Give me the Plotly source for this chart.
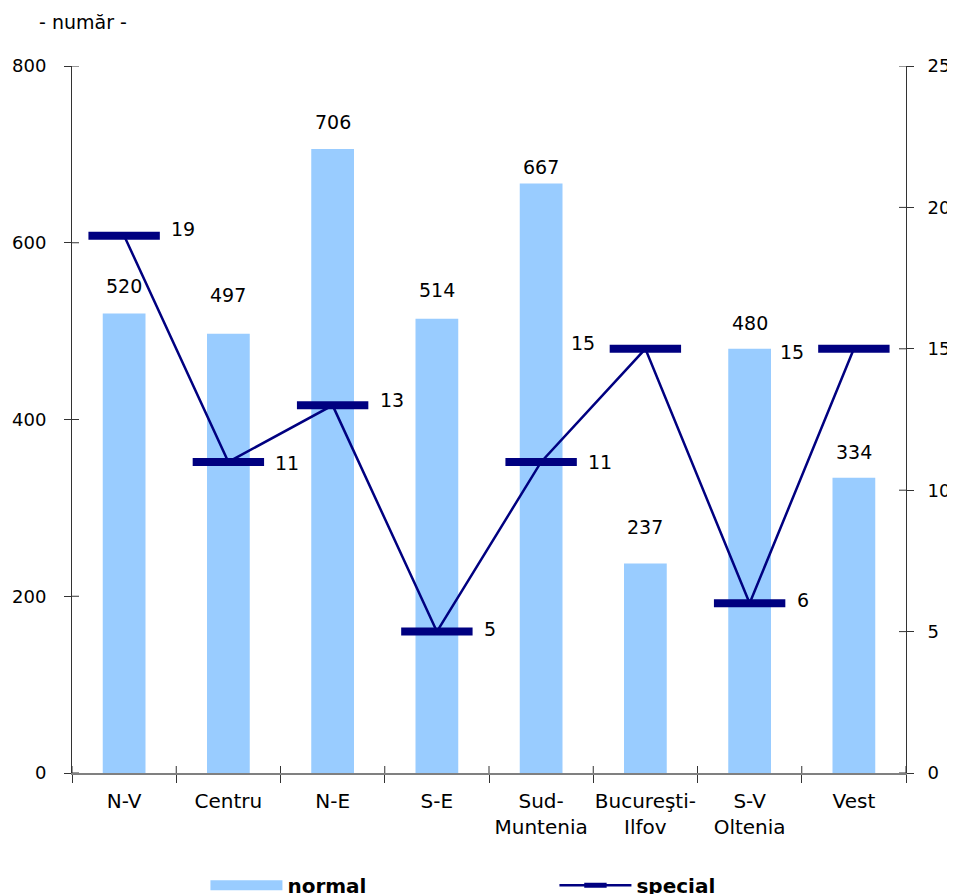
import plotly.graph_objects as go

categories = ["N-V", "Centru", "N-E", "S-E", "Sud-<br>Muntenia", "Bucureşti-<br>Ilfov", "S-V<br>Oltenia", "Vest"]
normal_values = [520, 497, 706, 514, 667, 237, 480, 334]
special_values = [19, 11, 13, 5, 11, 15, 6, 15]
left_ticks = [0, 200, 400, 600, 800]
right_ticks = [0, 5, 10, 15, 20, 25]

# label placement styles (pixels)
bar_label_shift = [27, 39, 27, 29, 17, 37, 26, 26]
spec_label_side = ["r", "r", "r", "r", "r", "l", "r", "l"]
spec_label_dy = [7, -1, 5, 3, 0, 6, 3, -3]

FONT = "DejaVu Sans"
NAVY = "#000080"
BLUE = "#99CCFF"
TICK = "#333333"

fig = go.Figure()
fig.add_trace(go.Bar(
    x=categories, y=normal_values, name="normal", legendgroup="normal", showlegend=False,
    marker=dict(color=BLUE, line=dict(width=0)), width=0.41,
))
# legend swatch for the bars (wide rectangle, as in the reference)
fig.add_trace(go.Scatter(
    x=[None], y=[None], name="normal", legendgroup="normal", mode="lines",
    line=dict(color=BLUE, width=16), hoverinfo="skip",
))
fig.add_trace(go.Scatter(
    x=categories, y=special_values, name="special", yaxis="y2",
    mode="lines+markers",
    line=dict(color=NAVY, width=2.5),
    marker=dict(symbol="line-ew", size=51, color=NAVY, line=dict(color=NAVY, width=8)),
))

annotations = []
for c, v, s in zip(categories, normal_values, bar_label_shift):
    annotations.append(dict(x=c, y=v, xref="x", yref="y", text=str(v), showarrow=False,
                            yshift=s, yanchor="middle", xanchor="center",
                            font=dict(family=FONT, size=19, color="black")))
for c, v, side, dy in zip(categories, special_values, spec_label_side, spec_label_dy):
    if side == "r":
        annotations.append(dict(x=c, y=v, xref="x", yref="y2", text=str(v), showarrow=False,
                                xanchor="left", xshift=45, yshift=dy, yanchor="middle",
                                font=dict(family=FONT, size=19, color="black")))
    else:
        annotations.append(dict(x=c, y=v, xref="x", yref="y2", text=str(v), showarrow=False,
                                xanchor="right", xshift=-48, yshift=dy, yanchor="middle",
                                font=dict(family=FONT, size=19, color="black")))
annotations.append(dict(x=-0.042, y=1.062, xref="paper", yref="paper", text="- număr -",
                        showarrow=False, xanchor="left", yanchor="middle",
                        font=dict(family=FONT, size=19, color="black")))

# inner halves of the crossing tick marks (outer halves are the axis ticks)
shapes = []
for t in left_ticks:
    shapes.append(dict(type="line", xref="paper", xsizemode="pixel", xanchor=0, x0=0, x1=7,
                       yref="y", y0=t, y1=t, line=dict(color=TICK, width=1)))
for t in right_ticks:
    shapes.append(dict(type="line", xref="paper", xsizemode="pixel", xanchor=1, x0=-7, x1=0,
                       yref="y2", y0=t, y1=t, line=dict(color=TICK, width=1)))
for i in range(len(categories) + 1):
    shapes.append(dict(type="line", xref="x", x0=i - 0.5, x1=i - 0.5,
                       yref="paper", ysizemode="pixel", yanchor=0, y0=0, y1=7,
                       line=dict(color=TICK, width=1)))

axis_font = dict(family=FONT, size=18, color="black")
# page body has an 8px margin, so the figure is 8px smaller and margins shifted
fig.update_layout(
    width=947, height=886,
    margin=dict(l=64, r=49, t=58, b=121, autoexpand=False),
    paper_bgcolor="white", plot_bgcolor="white",
    showlegend=True,
    bargap=0.59,
    xaxis=dict(
        type="category", showgrid=False, showline=True, linecolor="#808080", linewidth=2,
        ticks="outside", tickson="boundaries", ticklen=8, tickcolor=TICK, tickwidth=1,
        tickfont=dict(family=FONT, size=20, color="black"), ticklabelstandoff=9,
        tickangle=0, automargin=False,
        range=[-0.5, 7.5], fixedrange=True,
    ),
    yaxis=dict(
        range=[0, 800], tickvals=left_ticks, showgrid=False, zeroline=False,
        showline=True, linecolor=TICK, linewidth=1,
        ticks="outside", ticklen=7, tickcolor=TICK, automargin=False,
        tickfont=axis_font, ticklabelstandoff=14,
    ),
    yaxis2=dict(
        range=[0, 25], tickvals=right_ticks, overlaying="y", side="right", anchor="x",
        showgrid=False, zeroline=False, showline=True, linecolor=TICK, linewidth=1,
        ticks="outside", ticklen=7, tickcolor=TICK, automargin=False,
        tickfont=axis_font, ticklabelstandoff=10,
    ),
    legend=dict(
        orientation="h", xref="paper", yref="container", x=0.16, y=0.01, yanchor="middle",
        xanchor="left", itemwidth=72, entrywidth=262, entrywidthmode="pixels",
        font=dict(family=FONT, size=20, color="black", weight="bold"),
        bgcolor="rgba(0,0,0,0)",
    ),
    shapes=shapes,
    annotations=annotations,
)

fig.write_html("out.html")
